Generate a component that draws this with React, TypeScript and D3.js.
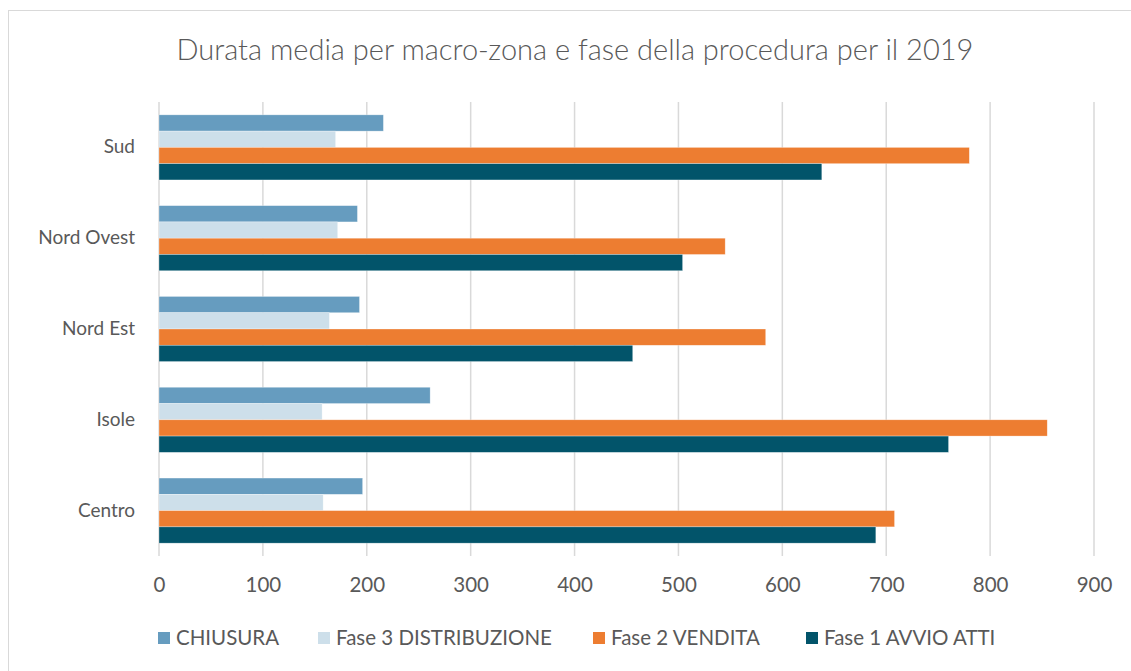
import React, { useEffect, useRef } from "react";
import * as d3 from "d3";

// categories top to bottom, as they appear in the chart
const zones = ["Sud", "Nord Ovest", "Nord Est", "Isole", "Centro"];
const phases = ["CHIUSURA", "Fase 3 DISTRIBUZIONE", "Fase 2 VENDITA", "Fase 1 AVVIO ATTI"];

// average duration (days), one array per phase, same order as zones
const chiusura = [216, 191, 193, 261, 196];
const distribuzione = [170, 172, 164, 157, 158];
const vendita = [780, 545, 584, 855, 708];
const avvio = [638, 504, 456, 760, 690];

const xTicks = [0, 100, 200, 300, 400, 500, 600, 700, 800, 900];
const phaseColors = ["#669cbf", "#cddfea", "#ed7d31", "#02546a"];

export default function App() {
	const ref = useRef<SVGSVGElement>(null);

	useEffect(() => {
		const svg = d3.select(ref.current);
		svg.selectAll("*").remove();

		const W = 1131;
		const H = 671;
		const font = "Lato, 'Noto Sans', sans-serif";
		const textColor = "#595959";

		const series = [chiusura, distribuzione, vendita, avvio];

		// chart frame
		svg.append("rect")
			.attr("x", 8.5)
			.attr("y", 10.5)
			.attr("width", W + 20)
			.attr("height", H + 20)
			.attr("fill", "#fff")
			.attr("stroke", "#d9d9d9")
			.attr("stroke-width", 1);

		svg.append("text")
			.attr("x", 575)
			.attr("y", 60)
			.attr("text-anchor", "middle")
			.attr("font-family", font)
			.attr("font-size", 29)
			.attr("font-weight", 300)
			.attr("fill", textColor)
			.text("Durata media per macro-zona e fase della procedura per il 2019");

		const left = 159;
		const right = 1094;
		const top = 102;
		const bottom = 556;

		const x = d3.scaleLinear().domain([0, 900]).range([left, right]);

		const y = d3
			.scaleBand()
			.domain(zones)
			.range([top, bottom])
			.paddingInner(0.283)
			.paddingOuter(0.1415);

		const inner = d3
			.scaleBand()
			.domain(phases)
			.range([0, y.bandwidth()]);

		// gridlines
		svg.append("g")
			.selectAll("line")
			.data(xTicks)
			.join("line")
			.attr("x1", (d) => x(d))
			.attr("x2", (d) => x(d))
			.attr("y1", top)
			.attr("y2", bottom)
			.attr("stroke", "#d9d9d9")
			.attr("stroke-width", 1.5);

		// bars
		phases.forEach((p, i) => {
			svg.append("g")
				.attr("fill", phaseColors[i])
				.selectAll("rect")
				.data(series[i])
				.join("rect")
				.attr("x", x(0))
				.attr("y", (d, j) => (y(zones[j]) as number) + (inner(p) as number))
				.attr("width", (d) => x(d) - x(0))
				.attr("height", inner.bandwidth())
				.attr("stroke", "#fff")
				.attr("stroke-opacity", 0.5)
				.attr("stroke-width", 0.6);
		});

		// x axis labels
		const xAxis = svg.append("g")
			.attr("transform", `translate(0,${bottom})`)
			.call(d3.axisBottom(x).tickValues(xTicks).tickSize(0).tickPadding(21));
		xAxis.select(".domain").remove();
		xAxis.selectAll("text")
			.attr("font-family", font)
			.attr("font-size", 20.5)
			.attr("fill", textColor);

		// y axis labels
		const yAxis = svg.append("g")
			.attr("transform", `translate(${left},0)`)
			.call(d3.axisLeft(y).tickSize(0).tickPadding(24));
		yAxis.select(".domain").remove();
		yAxis.selectAll("text")
			.attr("font-family", font)
			.attr("font-size", 19)
			.attr("fill", textColor);

		// legend
		const legendX = [158, 318, 593, 806];
		const legend = svg.append("g").attr("transform", "translate(0,638)");
		const items = legend
			.selectAll("g")
			.data(phases)
			.join("g")
			.attr("transform", (d, i) => `translate(${legendX[i]},0)`);
		items.append("rect")
			.attr("x", 0)
			.attr("y", -6)
			.attr("width", 12)
			.attr("height", 12)
			.attr("fill", (d, i) => phaseColors[i]);
		items.append("text")
			.attr("x", 18)
			.attr("y", 0)
			.attr("dy", "0.35em")
			.attr("font-family", font)
			.attr("font-size", 20.5)
			.attr("fill", textColor)
			.text((d) => d);
	}, []);

	return (
		<div style={{ position: "fixed", left: 0, top: 0 }}>
			<svg ref={ref} width={1131} height={671} style={{ display: "block" }} />
		</div>
	);
}
